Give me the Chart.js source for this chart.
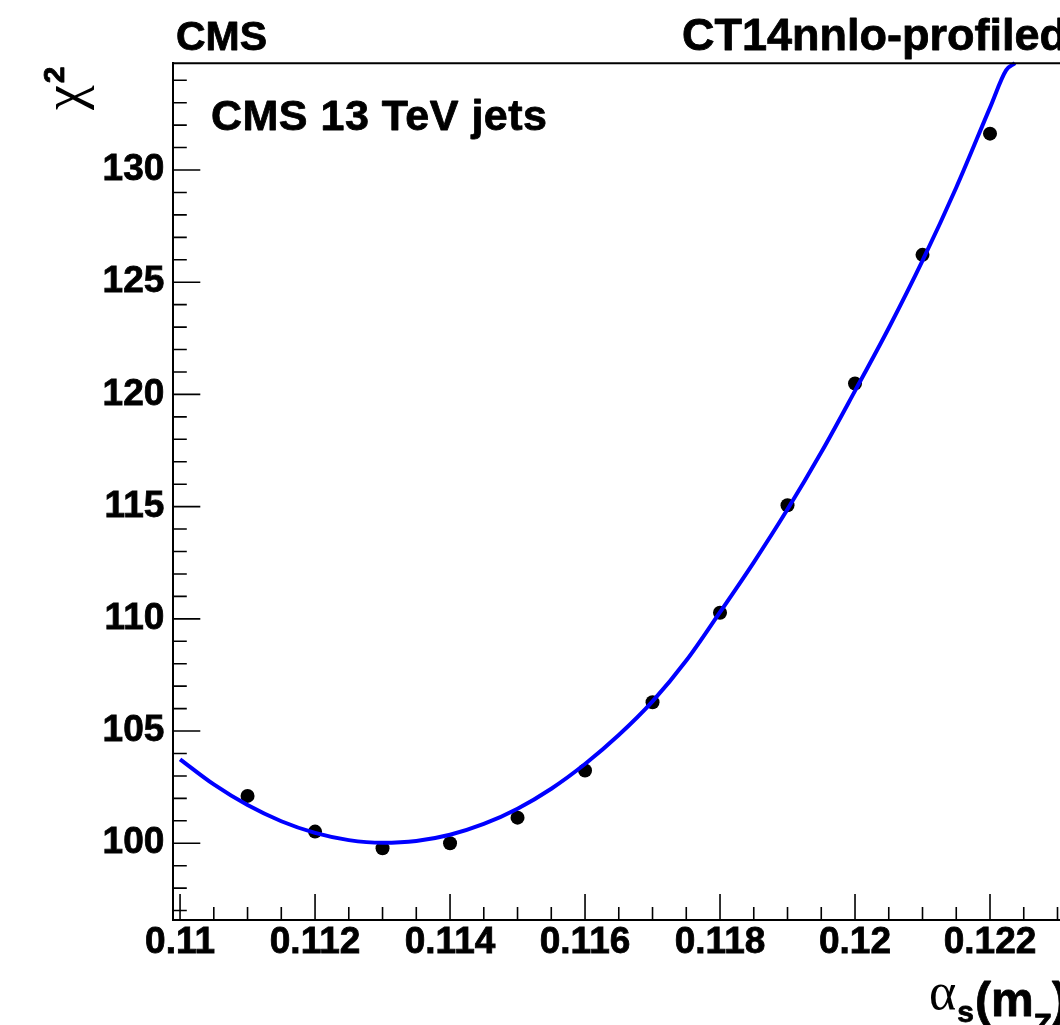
<!DOCTYPE html>
<html>
<head>
<meta charset="utf-8">
<title>chi2 scan</title>
<script src="https://cdn.jsdelivr.net/npm/chart.js@4.4.1/dist/chart.umd.min.js"></script>
<style>
  html, body { margin: 0; padding: 0; background: #fff; overflow: hidden; }
  #wrap { position: relative; width: 1110px; height: 1025px; }
</style>
</head>
<body>
<div id="wrap"><canvas id="scan"></canvas></div>
<script>
// alpha_s(mZ) scan points and chi2 values
const ALPHA_S = [0.111, 0.112, 0.113, 0.114, 0.115, 0.116, 0.117, 0.118, 0.119, 0.120, 0.121, 0.122];
const CHI2 = [102.11, 100.52, 99.78, 100.00, 101.14, 103.24, 106.28, 110.27, 115.06, 120.49, 126.22, 131.62];

// fitted curve, sampled (last sample sits at the top of the frame)
const FIT_ALPHA = [0.1100, 0.1105, 0.1110, 0.1115, 0.1120, 0.1125, 0.1130, 0.1135, 0.1140, 0.1145,
                   0.1150, 0.1155, 0.1160, 0.1165, 0.1170, 0.1175, 0.1180, 0.1185, 0.1190, 0.1195,
                   0.1200, 0.1205, 0.1210, 0.1215, 0.1220, 0.12224, 0.12237];
const FIT_CHI2 = [103.74, 102.62, 101.70, 100.98, 100.46, 100.14, 100.02, 100.10, 100.38, 100.86,
                  101.54, 102.43, 103.53, 104.82, 106.32, 108.14, 110.30, 112.52, 114.88, 117.42,
                  120.16, 122.96, 125.96, 129.22, 132.78, 134.45, 134.76];

const X_TICKS = [0.110, 0.112, 0.114, 0.116, 0.118, 0.120, 0.122];
const Y_TICKS = [100, 105, 110, 115, 120, 125, 130];

const X_MIN = 0.1099, X_MAX = 0.1234;
const Y_MIN = 96.58, Y_MAX = 134.755;

const SANS = '"Liberation Sans", Arial, Helvetica, sans-serif';
const GREEK = '"Liberation Serif", "DejaVu Serif", serif';

// ROOT-like frame: inner tick marks, top/right lines
const frameTicks = {
  id: 'frameTicks',
  afterDatasetsDraw(chart) {
    const { ctx, chartArea: a, scales: { x, y } } = chart;
    ctx.save();
    ctx.strokeStyle = '#000';
    ctx.lineWidth = 2;
    ctx.beginPath();
    ctx.moveTo(a.left, a.top); ctx.lineTo(a.right, a.top);
    ctx.moveTo(a.right, a.top); ctx.lineTo(a.right, a.bottom);
    ctx.stroke();

    ctx.lineWidth = 1.6;
    ctx.beginPath();
    for (let i = 0; ; i++) {
      const v = 0.110 + i * 0.0005;
      if (v > X_MAX) break;
      const px = x.getPixelForValue(v);
      const len = (i % 4 === 0) ? 26 : 13;
      ctx.moveTo(px, a.bottom); ctx.lineTo(px, a.bottom - len);
    }
    for (let v = 97; v <= Y_MAX; v++) {
      const py = y.getPixelForValue(v);
      const len = (v % 5 === 0) ? 27 : 13.5;
      ctx.moveTo(a.left, py); ctx.lineTo(a.left + len, py);
    }
    ctx.stroke();
    ctx.restore();
  }
};

function boldText(ctx, s, x, y) {
  ctx.fillText(s, x, y);
  ctx.strokeText(s, x, y);
}

// titles and axis captions
const captions = {
  id: 'captions',
  afterDraw(chart) {
    const ctx = chart.ctx;
    ctx.save();
    ctx.fillStyle = '#000';
    ctx.strokeStyle = '#000';
    ctx.lineWidth = 0.8;
    ctx.lineJoin = 'round';
    ctx.textBaseline = 'alphabetic';
    ctx.textAlign = 'left';

    ctx.font = 'bold 41px ' + SANS;
    boldText(ctx, 'CMS', 176, 50);

    ctx.font = 'bold 45px ' + SANS;
    boldText(ctx, 'CT14nnlo-profiled', 682, 50);

    ctx.font = 'bold 43px ' + SANS;
    ctx.letterSpacing = '0.5px';
    boldText(ctx, 'CMS 13 TeV jets', 211, 130);
    ctx.letterSpacing = '0px';

    // y title: chi^2, rotated
    ctx.save();
    ctx.translate(82, 110);
    ctx.rotate(-Math.PI / 2);
    ctx.font = '56px ' + GREEK;
    ctx.fillText('χ', 0, 0);
    const w = ctx.measureText('χ').width;
    ctx.font = 'bold 30px ' + SANS;
    boldText(ctx, '2', w + 2, -18);
    ctx.restore();

    // x title: alpha_s(m_Z)
    let cx = 929;
    ctx.font = '52px ' + GREEK;
    ctx.fillText('α', cx, 1009);
    cx += ctx.measureText('α').width + 1;
    ctx.font = 'bold 30px ' + SANS;
    boldText(ctx, 's', cx, 1022);
    cx += ctx.measureText('s').width + 1;
    ctx.font = 'bold 48px ' + SANS;
    boldText(ctx, '(m', cx, 1016);
    cx += ctx.measureText('(m').width;
    ctx.font = 'bold 30px ' + SANS;
    boldText(ctx, 'Z', cx, 1034);
    cx += ctx.measureText('Z').width;
    ctx.font = 'bold 48px ' + SANS;
    boldText(ctx, ')', cx, 1016);
    ctx.restore();
  }
};

const fitPoints = FIT_ALPHA.map((a, i) => ({ x: a, y: FIT_CHI2[i] }));
const scanPoints = ALPHA_S.map((a, i) => ({ x: a, y: CHI2[i] }));

new Chart(document.getElementById('scan'), {
  type: 'scatter',
  data: {
    datasets: [
      {
        label: 'fit',
        data: fitPoints,
        showLine: true,
        borderColor: '#0000ff',
        borderWidth: 4,
        pointRadius: 0,
        cubicInterpolationMode: 'monotone',
        clip: false
      },
      {
        label: 'scan',
        data: scanPoints,
        showLine: false,
        pointRadius: 7,
        pointBackgroundColor: '#000',
        pointBorderWidth: 0
      }
    ]
  },
  options: {
    responsive: true,
    maintainAspectRatio: false,
    animation: false,
    devicePixelRatio: 1,
    layout: { padding: { left: 0, top: 63.3, right: 25.5, bottom: 0 } },
    plugins: { legend: { display: false }, tooltip: { enabled: false } },
    scales: {
      x: {
        type: 'linear',
        min: X_MIN,
        max: X_MAX,
        grid: { display: false, drawTicks: false },
        border: { display: true, color: '#000', width: 2 },
        afterBuildTicks: s => { s.ticks = X_TICKS.map(v => ({ value: v })); },
        afterFit: s => { s.height = 105; },
        ticks: {
          autoSkip: false,
          maxRotation: 0,
          padding: 1,
          color: '#000',
          textStrokeColor: '#000',
          textStrokeWidth: 0.8,
          font: { family: SANS, size: 37, weight: 'bold' },
          callback: v => String(Number(v.toFixed(3)))
        }
      },
      y: {
        type: 'linear',
        min: Y_MIN,
        max: Y_MAX,
        grid: { display: false, drawTicks: false },
        border: { display: true, color: '#000', width: 2 },
        afterBuildTicks: s => { s.ticks = Y_TICKS.map(v => ({ value: v })); },
        afterFit: s => { s.width = 173.3; },
        ticks: {
          autoSkip: false,
          padding: 9,
          color: '#000',
          textStrokeColor: '#000',
          textStrokeWidth: 0.8,
          font: { family: SANS, size: 37, weight: 'bold' }
        }
      }
    }
  },
  plugins: [frameTicks, captions]
});
</script>
</body>
</html>
